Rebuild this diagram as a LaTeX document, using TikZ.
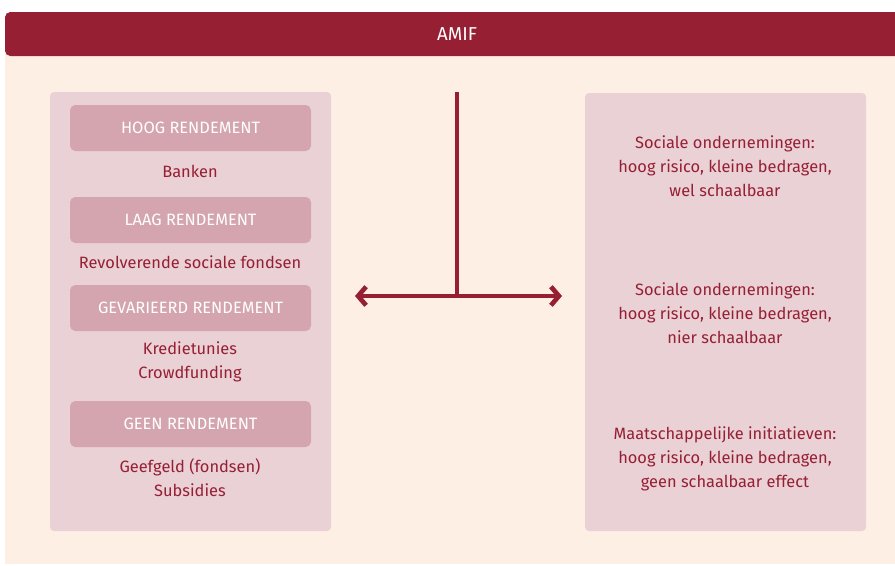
\documentclass[tikz,border=0pt]{standalone}
\usepackage{fontspec}
\setmainfont{Fira Sans}
\usetikzlibrary{arrows.meta}
\definecolor{amifred}{RGB}{150,31,51}
\definecolor{cream}{RGB}{253,239,228}
\definecolor{panelpink}{RGB}{234,209,214}
\definecolor{boxpink}{RGB}{212,165,174}
\begin{document}
\begin{tikzpicture}[x=0.75pt,y=-0.75pt,
  panel/.style={fill=panelpink,rounded corners=3pt},
  kop/.style={fill=boxpink,rounded corners=4pt,text=white,inner sep=0pt,
    minimum width=180.75pt,minimum height=34.5pt,font=\fontsize{12.3}{14}\selectfont},
  uitleg/.style={text=amifred,align=center,font=\fontsize{12.3}{18}\selectfont},
  pijl/.style={draw=amifred,line width=3.5pt}]
\useasboundingbox (0,0) rectangle (895,565);
\fill[white] (0,0) rectangle (895,565);
% achtergrond en kopbalk
\fill[cream] (5,50) rectangle (900,564);
\fill[amifred,rounded corners=4pt] (5,12) rectangle (905,56);
\node[text=white,font=\fontsize{14}{16}\selectfont] (amif) at (457,34) {AMIF};
% panelen
\fill[panel] (50,92) rectangle (331,531);
\fill[panel] (585,93) rectangle (866,531);
% links
\node[kop] (hoog) at (190.5,128) {HOOG RENDEMENT};
\node[uitleg] (banken) at (190,171) {Banken};
\node[kop] (laag) at (190.5,220) {LAAG RENDEMENT};
\node[uitleg] (revolv) at (190,262) {Revolverende sociale fondsen};
\node[kop] (gevar) at (190.5,308) {GEVARIEERD RENDEMENT};
\node[uitleg] (krediet) at (190,362) {Kredietunies\\Crowdfunding};
\node[kop] (geen) at (190.5,424) {GEEN RENDEMENT};
\node[uitleg] (geefgeld) at (190,478) {Geefgeld (fondsen)\\Subsidies};
% rechts
\node[uitleg] (wel) at (725,166) {Sociale ondernemingen:\\hoog risico, kleine bedragen,\\wel schaalbaar};
\node[uitleg] (nier) at (725,313) {Sociale ondernemingen:\\hoog risico, kleine bedragen,\\nier schaalbaar};
\node[uitleg] (maatsch) at (725,459) {Maatschappelijke initiatieven:\\hoog risico, kleine bedragen,\\geen schaalbaar effect};
% pijlen
\coordinate (boven) at (457,92);
\coordinate (kruis) at (457,296);
\coordinate (links) at (355,296);
\coordinate (rechts) at (562,296);
\draw[pijl] (boven) -- (kruis);
\draw[pijl,{Straight Barb[length=6pt,width=14pt]}-{Straight Barb[length=6pt,width=14pt]}] (links) -- (rechts);
\end{tikzpicture}
\end{document}
